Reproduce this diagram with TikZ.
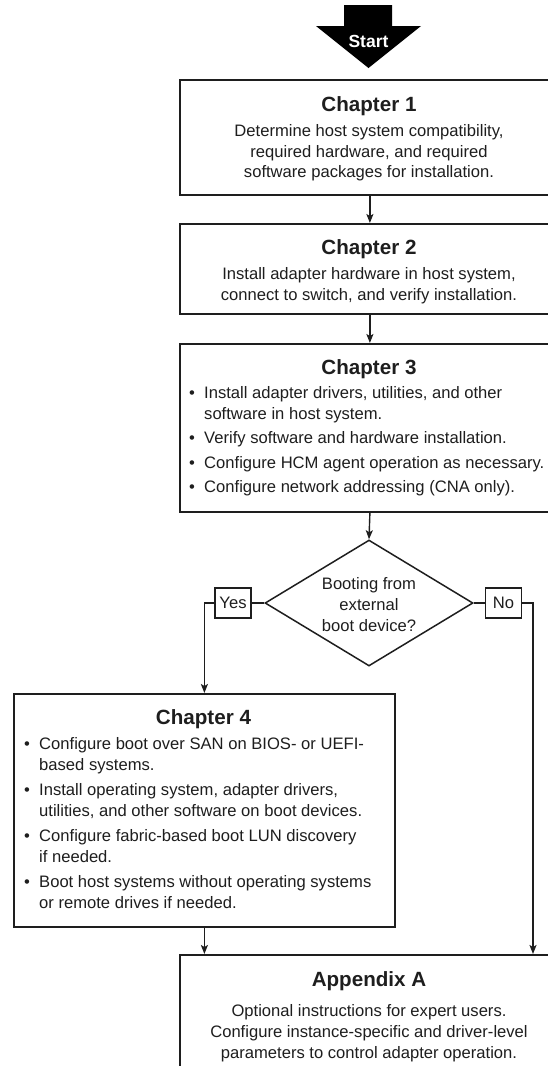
\documentclass[tikz,border=0pt]{standalone}
\usepackage{fontspec}
\setmainfont{Liberation Sans}
\usetikzlibrary{shapes.geometric,arrows.meta}
\definecolor{ink}{HTML}{1E1E1E}
\begin{document}
\begin{tikzpicture}[x=1pt,y=-1pt,
  box/.style={draw=ink,line width=1.8pt,fill=white,anchor=north west,inner sep=0pt},
  ttl/.style={font=\fontsize{20.6}{24}\selectfont\bfseries,text=ink,anchor=base,inner sep=0pt},
  txt/.style={font=\fontsize{16.6}{21}\selectfont,text=ink,anchor=base,inner sep=0pt},
  itm/.style={txt,anchor=base west},
  conn/.style={draw=ink,line width=1.4pt,-{Stealth[length=9pt,width=7pt,inset=2pt]}},
  link/.style={draw=ink,line width=1.4pt},
  tag/.style={draw=ink,line width=1.4pt,fill=white,minimum width=36pt,minimum height=30pt,
              inner sep=0pt,font=\fontsize{16.6}{21}\selectfont,text=ink},
  decision/.style={diamond,draw=ink,line width=1.5pt,inner sep=0pt,shape aspect=1.65,
              minimum width=208pt,minimum height=126pt}
]
\useasboundingbox (0,0) rectangle (548,1066);
\clip (0,0) rectangle (548,1066);

% start marker
\fill[black] (344,5) -- (392,5) -- (392,26) -- (421,26) -- (368.5,68) -- (316,26) -- (344,26) -- cycle;
\node[font=\fontsize{17.5}{20}\selectfont\bfseries,text=white,anchor=base,inner sep=0pt] (start) at (368.5,47) {Start};

% chapter 1
\node[box,minimum width=380pt,minimum height=115pt] (ch1) at (179,79) {};
\node[ttl] (ch1t) at (369,111) {Chapter 1};
\node[txt] (ch1a) at (369,136) {Determine host system compatibility,};
\node[txt] (ch1b) at (369,157) {required hardware, and required};
\node[txt] (ch1c) at (369,177) {software packages for installation.};

% chapter 2
\node[box,minimum width=380pt,minimum height=90pt] (ch2) at (179,223) {};
\node[ttl] (ch2t) at (369,254) {Chapter 2};
\node[txt] (ch2a) at (369,279) {Install adapter hardware in host system,};
\node[txt] (ch2b) at (369,300) {connect to switch, and verify installation.};

% chapter 3
\node[box,minimum width=380pt,minimum height=168pt] (ch3) at (179,343) {};
\node[ttl] (ch3t) at (369,374) {Chapter 3};
\node[itm] (ch3d1) at (189,398) {\textbullet};
\node[itm] (ch3a) at (204,398) {Install adapter drivers, utilities, and other};
\node[itm] (ch3b) at (204,419) {software in host system.};
\node[itm] (ch3d2) at (189,443) {\textbullet};
\node[itm] (ch3c) at (204,443) {Verify software and hardware installation.};
\node[itm] (ch3d3) at (189,468) {\textbullet};
\node[itm] (ch3d) at (204,468) {Configure HCM agent operation as necessary.};
\node[itm] (ch3d4) at (189,492) {\textbullet};
\node[itm] (ch3e) at (204,492) {Configure network addressing (CNA only).};

% decision
\node[decision] (dec) at (369,603) {};
\node[txt] (deca) at (369,589) {Booting from};
\node[txt] (decb) at (369,610) {external};
\node[txt] (decc) at (369,631) {boot device?};
\node[tag] (yes) at (233,603) {Yes};
\node[tag] (no) at (503.5,603) {No};

% chapter 4
\node[box,minimum width=381pt,minimum height=233pt] (ch4) at (13,693) {};
\node[ttl] (ch4t) at (203.5,724) {Chapter 4};
\node[itm] (ch4d1) at (24,749) {\textbullet};
\node[itm] (ch4a) at (39,749) {Configure boot over SAN on BIOS- or UEFI-};
\node[itm] (ch4b) at (39,770) {based systems.};
\node[itm] (ch4d2) at (24,795) {\textbullet};
\node[itm] (ch4c) at (39,795) {Install operating system, adapter drivers,};
\node[itm] (ch4d) at (39,816) {utilities, and other software on boot devices.};
\node[itm] (ch4d3) at (24,841) {\textbullet};
\node[itm] (ch4e) at (39,841) {Configure fabric-based boot LUN discovery};
\node[itm] (ch4f) at (39,862) {if needed.};
\node[itm] (ch4d4) at (24,887) {\textbullet};
\node[itm] (ch4g) at (39,887) {Boot host systems without operating systems};
\node[itm] (ch4h) at (39,908) {or remote drives if needed.};

% appendix A
\node[box,minimum width=380pt,minimum height=150pt] (appA) at (179,954) {};
\node[ttl] (appAt) at (369,986) {Appendix A};
\node[txt] (appAa) at (369,1016) {Optional instructions for expert users.};
\node[txt] (appAb) at (369,1037) {Configure instance-specific and driver-level};
\node[txt] (appAc) at (369,1058) {parameters to control adapter operation.};

% connectors
\draw[conn] (ch1.south) -- (ch2.north);
\draw[conn] (ch2.south) -- (ch3.north);
\draw[conn] (ch3.south) -- (dec.north);
\draw[link] (dec.west) -- (yes.east);
\draw[link] (dec.east) -- (no.west);
\draw[conn] (yes.west) -| (ch4.north);
\coordinate (noin) at (533,954);
\draw[conn] (no.east) -| (noin);
\draw[conn] (ch4.south) -- (ch4.south |- appA.north);
\end{tikzpicture}
\end{document}
